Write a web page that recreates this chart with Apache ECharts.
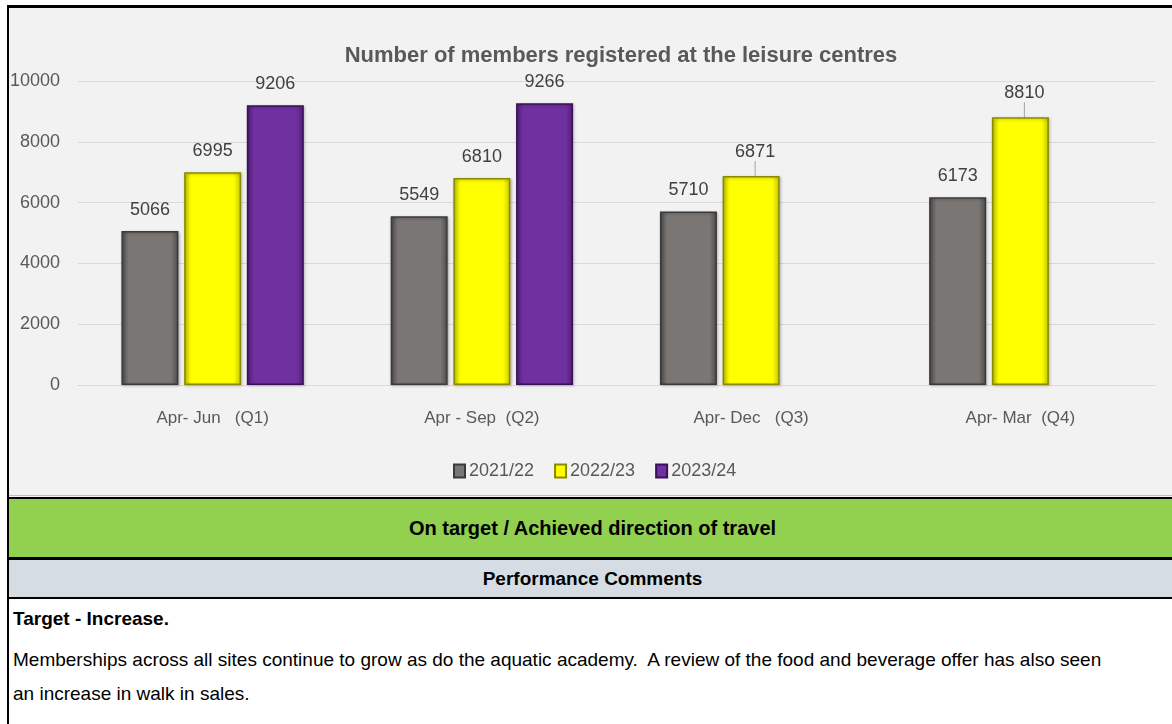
<!DOCTYPE html>
<html>
<head>
<meta charset="utf-8">
<script src="https://cdn.jsdelivr.net/npm/echarts@6/dist/echarts.min.js"></script>
<style>
  html, body { margin:0; padding:0; background:#ffffff; }
  body { width:1172px; height:724px; position:relative; overflow:hidden;
         font-family:"Liberation Sans",sans-serif; }
  #chart { position:absolute; left:9px; top:8px; width:1163px; height:489px; }
  .line { position:absolute; background:#000; }
  .band { position:absolute; left:9px; width:1163px; display:flex; align-items:center; justify-content:center;
          font-weight:bold; color:#000; }
  .txt { position:absolute; left:13px; color:#000; white-space:nowrap; }
</style>
</head>
<body>
<div id="chart"></div>
<div class="line" style="left:7px;top:5px;width:1165px;height:3px;"></div>
<div class="line" style="left:7px;top:5px;width:2px;height:719px;"></div>
<div class="line" style="left:9px;top:495px;width:1163px;height:1px;background:#bfbfbf;"></div>
<div class="line" style="left:9px;top:497px;width:1163px;height:2px;"></div>
<div class="band" style="top:499px;height:58px;background:#92d050;font-size:20px;padding-left:4px;box-sizing:border-box;">On target / Achieved direction of travel</div>
<div class="line" style="left:9px;top:557px;width:1163px;height:3px;"></div>
<div class="band" style="top:560px;height:37px;background:#d6dce4;font-size:19px;padding-left:4px;box-sizing:border-box;">Performance Comments</div>
<div class="line" style="left:9px;top:597px;width:1163px;height:2px;"></div>
<div class="txt" style="top:608px;font-size:19px;font-weight:bold;">Target - Increase.</div>
<div class="txt" style="top:649px;font-size:19px;">Memberships across all sites continue to grow as do the aquatic academy.&nbsp; A review of the food and beverage offer has also seen</div>
<div class="txt" style="top:683px;font-size:19px;">an increase in walk in sales.</div>
<script>
const categories = ['Apr- Jun   (Q1)', 'Apr - Sep  (Q2)', 'Apr- Dec   (Q3)', 'Apr- Mar  (Q4)'];
const seriesNames = ['2021/22', '2022/23', '2023/24'];
const s2021 = [5066, 5549, 5710, 6173];
const s2022 = [6995, 6810, 6871, 8810];
const s2023 = [9206, 9266, null, null];
const yTicks = [0, 2000, 4000, 6000, 8000, 10000];
const leaderIdx = [2, 3]; // 2022/23 labels with leader lines

const FONT = '"Liberation Sans",sans-serif';
function grad(edge, mid) {
  return { type:'linear', x:0, y:0, x2:1, y2:0, colorStops:[
    {offset:0, color:edge},{offset:0.13, color:mid},{offset:0.87, color:mid},{offset:1, color:edge}] };
}
const styles = [
  { fill: grad('#4f4c4b', '#7a7674'), border:'#3a3a3a' },
  { fill: grad('#c8c800', '#ffff00'), border:'#8a8a00' },
  { fill: grad('#52207a', '#7030a0'), border:'#3a1158' }
];
const dataSets = [s2021, s2022, s2023];

const chart = echarts.init(document.getElementById('chart'));
chart.setOption({
  backgroundColor:'#f2f2f2',
  animation:false,
  title:{ text:'Number of members registered at the leisure centres', left:607, textAlign:'center', top:32,
    textStyle:{ fontFamily:FONT, fontSize:22, fontWeight:'bold', color:'#595959' } },
  legend:{ data:seriesNames, left:439, top:449, icon:'rect', itemWidth:11, itemHeight:13, itemGap:20,
    textStyle:{ fontFamily:FONT, fontSize:18, color:'#595959', padding:[0,0,0,-1] } },
  grid:{ left:69, right:17, top:73, bottom:112, outerBoundsMode:'none', containLabel:false },
  xAxis:{ type:'category', data:categories,
    axisLine:{ lineStyle:{ color:'#d9d9d9' } }, axisTick:{ show:false },
    axisLabel:{ fontFamily:FONT, fontSize:17, color:'#595959', margin:25 } },
  yAxis:{ type:'value', min:yTicks[0], max:yTicks[yTicks.length-1], interval:2000,
    axisLine:{ show:false }, axisTick:{ show:false },
    splitLine:{ lineStyle:{ color:'#d9d9d9', width:1 } },
    axisLabel:{ fontFamily:FONT, fontSize:18, color:'#595959', margin:18, formatter:(v) => String(v) } },
  series: seriesNames.map((name, si) => ({
    name, type:'bar', barWidth:57, barGap:'10%',
    data: dataSets[si].map((v, i) => (v === null ? '-' :
      (si === 1 && leaderIdx.includes(i) ? { value:v, labelLine:{ show:true, length2:0, lineStyle:{ color:'#a6a6a6', width:1 } } } : v))),
    itemStyle:{ color:styles[si].fill, borderColor:styles[si].border, borderWidth:1.5,
      shadowColor:'rgba(0,0,0,0.25)', shadowBlur:3, shadowOffsetX:1, shadowOffsetY:1 },
    label:{ show:true, position:'top', distance:12, fontFamily:FONT, fontSize:18, color:'#404040' },
    labelLayout: (p) => (si === 1 && leaderIdx.includes(p.dataIndex) ? { dy:-3, dx:4 } : {}),
    emphasis:{ disabled:true }
  }))
});
</script>
</body>
</html>
